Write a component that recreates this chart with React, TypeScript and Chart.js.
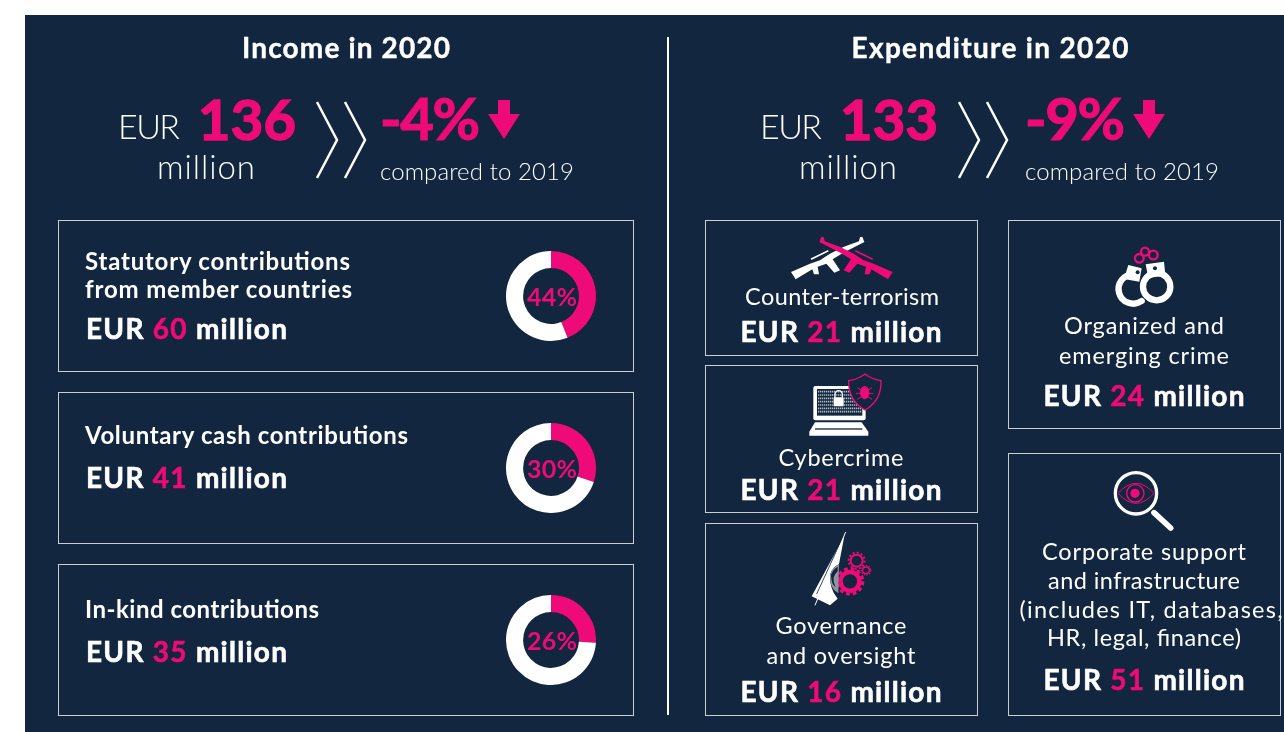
import React, { useEffect, useRef } from "react";
import { Chart, registerables } from "chart.js";

Chart.register(...registerables);

const NAVY = "#12273f";
const PINK = "#ee0a78";
const WHITE = "#ffffff";
const FONT = "Lato, 'Noto Sans', sans-serif";

const incomeCategories = ["Statutory contributions from member countries", "Voluntary cash contributions", "In-kind contributions"];
const incomeAmounts = [60, 41, 35];
const incomeShares = [44, 30, 26];
const expenditureCategories = ["Counter-terrorism", "Cybercrime", "Governance and oversight", "Organized and emerging crime", "Corporate support and infrastructure (includes IT, databases, HR, legal, finance)"];
const expenditureAmounts = [21, 21, 16, 24, 51];
const incomeTotal = 136;
const expenditureTotal = 133;
const incomeChange = -4;
const expenditureChange = -9;

const donutBoxes = [
  { x: 506, y: 251 },
  { x: 506, y: 423 },
  { x: 506, y: 595 },
];

function Donut({ share, x, y }: { share: number; x: number; y: number }) {
  const ref = useRef<HTMLCanvasElement>(null);
  useEffect(() => {
    const chart = new Chart(ref.current!, {
      type: "doughnut",
      data: {
        labels: ["Share", "Rest"],
        datasets: [{ data: [share, 100 - share], backgroundColor: [PINK, WHITE], borderWidth: 0 }],
      },
      options: {
        responsive: false,
        animation: false,
        cutout: "62%",
        layout: { padding: 0 },
        plugins: { legend: { display: false }, tooltip: { enabled: false } },
      },
    });
    return () => chart.destroy();
  }, [share]);
  return <canvas ref={ref} width={90} height={90} style={{ position: "absolute", left: x, top: y, width: 90, height: 90 }} />;
}

function Box({ x, y, w, h }: { x: number; y: number; w: number; h: number }) {
  return <rect x={x + 0.5} y={y + 0.5} width={w} height={h} fill="none" stroke="#c9ced4" strokeWidth={1} />;
}

function Txt({ x, y, size, weight = 400, anchor = "start", fill = WHITE, children, w, heavy = 0 }: any) {
  return (
    <text
      x={x}
      y={y}
      fontSize={size}
      fontWeight={weight}
      textAnchor={anchor}
      fill={fill}
      stroke={heavy ? fill : "none"}
      strokeWidth={heavy}
      fontFamily={FONT}
      textLength={w}
      lengthAdjust="spacing"
    >
      {children}
    </text>
  );
}

function Amount({ x, y, value, anchor = "start" }: any) {
  return (
    <Txt x={x} y={y} size={28} weight={700} anchor={anchor} w={201} heavy={0.6}>
      EUR <tspan fill={PINK} stroke={PINK}>{value}</tspan> million
    </Txt>
  );
}

function Header({ dx, dx2, title, titleX, titleW, total, change }: any) {
  return (
    <g>
      <Txt x={titleX} y={58} size={28} weight={700} anchor="middle" w={titleW} heavy={0.4}>{title}</Txt>
      <Txt x={118 + dx} y={139} size={34} weight={300} w={62}>EUR</Txt>
      <Txt x={198 + dx} y={140} size={56} weight={700} fill={PINK} w={98} heavy={1.6}>{total}</Txt>
      <Txt x={206 + dx} y={179} size={33} weight={300} anchor="middle" w={98}>million</Txt>
      <path d={`M${317 + dx} 102 L${337 + dx} 140 L${317 + dx} 178`} fill="none" stroke={WHITE} strokeWidth={2.5} />
      <path d={`M${345 + dx} 102 L${365 + dx} 140 L${345 + dx} 178`} fill="none" stroke={WHITE} strokeWidth={2.5} />
      <Txt x={380 + dx2} y={140} size={58} weight={700} fill={PINK} w={100} heavy={1.2}>{`${change}%`}</Txt>
      <path d={`M${498 + dx2} 100 H${510 + dx2} V114 H${520 + dx2} L${504 + dx2} 139 L${488 + dx2} 114 H${498 + dx2} Z`} fill={PINK} />
      <Txt x={380 + dx2} y={180} size={24} weight={300} w={194}>compared to 2019</Txt>
    </g>
  );
}

function RifleIcon() {
  const rifle = "M18 120 L32 142 L82 112 L87 127 L102 127 L98 104 L124 95 L148 122 L165 115 L143 82 L175 62 L238 30 L232 14 L225 16 L222 28 L175 45 L135 65 L105 85 L75 95 Z";
  return (
    <g transform="translate(785 232) scale(0.3333)">
      <path d={rifle} fill={WHITE} />
      <line x1={78} y1={82} x2={130} y2={56} stroke={WHITE} strokeWidth={5} />
      <g transform="translate(341 0) scale(-1 1)">
        <path d={rifle} fill={PINK} />
        <line x1={78} y1={82} x2={130} y2={56} stroke={PINK} strokeWidth={5} />
      </g>
    </g>
  );
}

function LaptopIcon() {
  const rows = [530, 540, 550, 560, 570, 580, 590];
  return (
    <g transform="translate(700 215) scale(0.3333)">
      <rect x={340} y={513} width={157} height={103} rx={6} fill={WHITE} />
      <rect x={351} y={522} width={136} height={80} fill={NAVY} />
      {rows.map((r) => (
        <line key={r} x1={354} x2={484} y1={r} y2={r} stroke="#aeb6bf" strokeWidth={5} strokeDasharray="4 2" />
      ))}
      <path d="M405 547 V538 A11 11 0 0 1 427 538 V547" fill="none" stroke={WHITE} strokeWidth={4} />
      <rect x={401} y={547} width={30} height={27} rx={2} fill={WHITE} />
      <path d="M345 622 H485 L505 650 V662 H328 V650 Z" fill={WHITE} />
      <rect x={345} y={640} width={142} height={4} fill={NAVY} />
      <path d="M495 477 Q518 494 543 497 Q545 556 495 585 Q445 556 446 497 Q472 494 495 477 Z" fill={NAVY} stroke={PINK} strokeWidth={4} />
      <ellipse cx={494} cy={533} rx={14} ry={20} fill={PINK} />
      <path d="M472 518 L484 526 M516 518 L504 526 M468 535 H482 M520 535 H506 M472 553 L484 545 M516 553 L504 545" stroke={PINK} strokeWidth={3} />
    </g>
  );
}

function GovernanceIcon() {
  return (
    <g transform="translate(805 528) scale(0.3333)">
      <circle cx={135} cy={160} r={28} fill="none" stroke={PINK} strokeWidth={13} />
      <circle cx={135} cy={160} r={38} fill="none" stroke={PINK} strokeWidth={10} strokeDasharray="11 9" />
      <circle cx={155} cy={98} r={18} fill="none" stroke={PINK} strokeWidth={6} />
      <circle cx={155} cy={98} r={24} fill="none" stroke={PINK} strokeWidth={6} strokeDasharray="6 6.5" />
      <circle cx={183} cy={127} r={10} fill="none" stroke={PINK} strokeWidth={4} />
      <circle cx={183} cy={127} r={14} fill="none" stroke={PINK} strokeWidth={4} strokeDasharray="4 4" />
      <path d="M118 24 L20 205 L75 232 L98 212 Q72 180 75 140 Q82 118 102 108 Z" fill={WHITE} />
      <path d="M75 140 Q82 118 102 108 L100 196 Q72 180 75 140 Z" fill="#8c96a1" />
      <path d="M78 140 Q84 124 98 116 L98 130 Q76 148 92 178 Q78 168 78 140 Z" fill={NAVY} />
      <line x1={115} y1={24} x2={35} y2={198} stroke={NAVY} strokeWidth={2.5} />
      <line x1={122} y1={12} x2={30} y2={232} stroke={WHITE} strokeWidth={3} />
    </g>
  );
}

function CuffIcon() {
  return (
    <g transform="translate(1000 215) scale(0.3333)">
      <circle cx={418} cy={130} r={13} fill="none" stroke={PINK} strokeWidth={7} />
      <circle cx={435} cy={110} r={12} fill="none" stroke={PINK} strokeWidth={7} />
      <circle cx={460} cy={120} r={13} fill="none" stroke={PINK} strokeWidth={7} />
      <path d="M402 178 A44 44 0 1 0 425 258" fill="none" stroke={WHITE} strokeWidth={19} strokeLinecap="round" />
      <path d="M385 150 L425 160 L418 200 L372 192 Z" fill={WHITE} />
      <circle cx={413} cy={172} r={6} fill={NAVY} />
      <circle cx={470} cy={215} r={41} fill="none" stroke={WHITE} strokeWidth={19} />
      <path d="M437 148 L492 140 L496 180 L445 190 Z" fill={WHITE} />
      <circle cx={465} cy={160} r={6} fill={NAVY} />
    </g>
  );
}

function LensIcon() {
  return (
    <g transform="translate(1000 215) scale(0.3333)">
      <circle cx={408} cy={835} r={62} fill="none" stroke={WHITE} strokeWidth={10} />
      <line x1={462} y1={893} x2={512} y2={939} stroke={WHITE} strokeWidth={17} strokeLinecap="round" />
      <path d="M354 835 Q408 775 462 835 Q408 895 354 835 Z" fill="none" stroke={PINK} strokeWidth={3} />
      <circle cx={406} cy={835} r={26} fill="none" stroke={PINK} strokeWidth={4} />
      <circle cx={405} cy={835} r={14} fill={PINK} />
    </g>
  );
}

export default function App() {
  useEffect(() => {
    document.body.style.margin = "0";
    document.body.style.background = "#ffffff";
  }, []);
  const [statutory, voluntary, inKind] = incomeAmounts;
  const [terror, cyber, gov, organized, corporate] = expenditureAmounts;
  return (
    <div style={{ position: "absolute", left: 0, top: 0, width: 1284, height: 732, overflow: "hidden", background: "#ffffff" }}>
      <div style={{ position: "absolute", left: 25, top: 15, width: 1259, height: 717, background: NAVY }} />
      {incomeShares.map((s, i) => (
        <Donut key={incomeCategories[i]} share={s} x={donutBoxes[i].x} y={donutBoxes[i].y} />
      ))}
      <svg width={1284} height={732} style={{ position: "absolute", left: 0, top: 0, pointerEvents: "none" }}>
        <Header dx={0} dx2={0} title="Income in 2020" titleX={346} titleW={208} total={incomeTotal} change={incomeChange} />
        <Header dx={642} dx2={645} title="Expenditure in 2020" titleX={990} titleW={277} total={expenditureTotal} change={expenditureChange} />
        <line x1={668} x2={668} y1={37} y2={715} stroke={WHITE} strokeWidth={2} />

        <Box x={58} y={220} w={575} h={151} />
        <Box x={58} y={392} w={575} h={151} />
        <Box x={58} y={564} w={575} h={151} />
        <Box x={705} y={220} w={272} h={135} />
        <Box x={705} y={365} w={272} h={147} />
        <Box x={705} y={523} w={272} h={192} />
        <Box x={1008} y={220} w={272} h={208} />
        <Box x={1008} y={453} w={272} h={262} />

        <Txt x={85} y={270} size={24} weight={700} w={265}>Statutory contributions</Txt>
        <Txt x={85} y={298} size={24} weight={700} w={267}>from member countries</Txt>
        <Amount x={86} y={339} value={statutory} />
        <Txt x={85} y={444} size={24} weight={700} w={323}>{incomeCategories[1]}</Txt>
        <Amount x={86} y={488} value={voluntary} />
        <Txt x={85} y={618} size={24} weight={700} w={234}>{incomeCategories[2]}</Txt>
        <Amount x={86} y={662} value={inKind} />

        {incomeShares.map((s, i) => (
          <Txt key={i} x={donutBoxes[i].x + 46} y={donutBoxes[i].y + 55} size={25} weight={700} anchor="middle" fill={PINK} w={50}>{`${s}%`}</Txt>
        ))}

        <RifleIcon />
        <Txt x={842} y={305} size={23.5} anchor="middle" w={194}>{expenditureCategories[0]}</Txt>
        <Amount x={841} y={342} value={terror} anchor="middle" />
        <LaptopIcon />
        <Txt x={841} y={466} size={23.5} anchor="middle" w={125}>{expenditureCategories[1]}</Txt>
        <Amount x={841} y={500} value={cyber} anchor="middle" />
        <GovernanceIcon />
        <Txt x={841} y={634} size={23.5} anchor="middle" w={131}>Governance</Txt>
        <Txt x={841} y={664} size={23.5} anchor="middle" w={149}>and oversight</Txt>
        <Amount x={841} y={702} value={gov} anchor="middle" />

        <CuffIcon />
        <Txt x={1144} y={334} size={23.5} anchor="middle" w={160}>Organized and</Txt>
        <Txt x={1144} y={364} size={23.5} anchor="middle" w={170}>emerging crime</Txt>
        <Amount x={1144} y={406} value={organized} anchor="middle" />
        <LensIcon />
        <Txt x={1144} y={560} size={23.5} anchor="middle" w={204}>Corporate support</Txt>
        <Txt x={1144} y={589} size={23.5} anchor="middle" w={192}>and infrastructure</Txt>
        <Txt x={1151} y={618} size={23.5} anchor="middle" w={263}>(includes IT, databases,</Txt>
        <Txt x={1144} y={646} size={23.5} anchor="middle" w={194}>HR, legal, finance)</Txt>
        <Amount x={1144} y={690} value={corporate} anchor="middle" />
      </svg>
    </div>
  );
}
